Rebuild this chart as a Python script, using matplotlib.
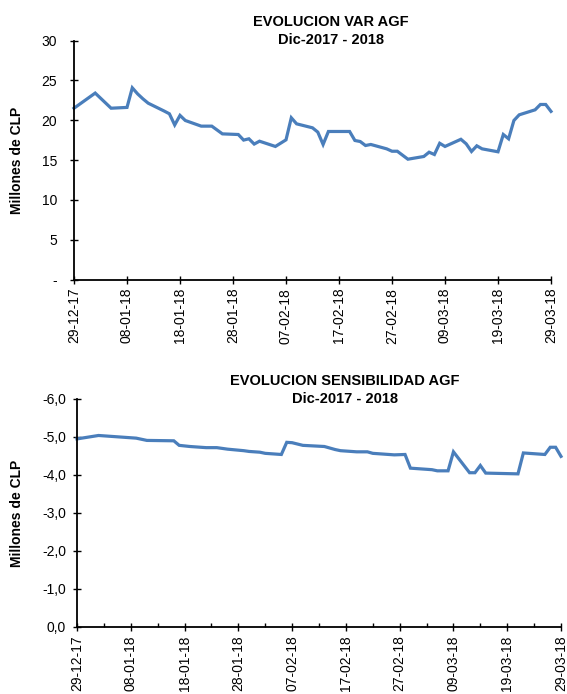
import matplotlib
matplotlib.use("Agg")
import matplotlib.pyplot as plt
import matplotlib.dates as mdates
from matplotlib.ticker import FixedLocator, FuncFormatter
import pandas as pd

plt.rcParams['font.family'] = ['Liberation Sans', 'DejaVu Sans']

# ---- data: VaR (top chart) ----
var_dates = ["2017-12-29", "2018-01-02", "2018-01-05", "2018-01-08", "2018-01-09", "2018-01-10",
             "2018-01-11", "2018-01-12", "2018-01-15", "2018-01-16", "2018-01-17", "2018-01-18",
             "2018-01-19", "2018-01-22", "2018-01-24", "2018-01-26", "2018-01-29", "2018-01-30",
             "2018-01-31", "2018-02-01", "2018-02-02", "2018-02-05", "2018-02-07", "2018-02-08",
             "2018-02-09", "2018-02-12", "2018-02-13", "2018-02-14", "2018-02-15", "2018-02-16",
             "2018-02-19", "2018-02-20", "2018-02-21", "2018-02-22", "2018-02-23", "2018-02-26",
             "2018-02-27", "2018-02-28", "2018-03-02", "2018-03-05", "2018-03-06", "2018-03-07",
             "2018-03-08", "2018-03-09", "2018-03-12", "2018-03-13", "2018-03-14", "2018-03-15",
             "2018-03-16", "2018-03-19", "2018-03-20", "2018-03-21", "2018-03-22", "2018-03-23",
             "2018-03-26", "2018-03-27", "2018-03-28", "2018-03-29"]
var_values = [21.5, 23.4, 21.5, 21.6, 24.06, 23.3,
              22.68, 22.13, 21.15, 20.8, 19.4, 20.6,
              19.96, 19.25, 19.25, 18.28, 18.2, 17.5,
              17.66, 17.0, 17.36, 16.7, 17.53, 20.3,
              19.54, 19.04, 18.5, 16.95, 18.58, 18.58,
              18.58, 17.45, 17.32, 16.82, 16.95, 16.4,
              16.1, 16.1, 15.1, 15.44, 15.98, 15.69,
              17.1, 16.7, 17.6, 17.03, 16.07, 16.78,
              16.4, 16.03, 18.2, 17.66, 19.96, 20.67,
              21.3, 21.97, 21.97, 21.1]

# ---- data: Sensibilidad (bottom chart) ----
sens_dates = ["2017-12-29", "2018-01-02", "2018-01-04", "2018-01-09", "2018-01-11", "2018-01-16",
              "2018-01-17", "2018-01-19", "2018-01-22", "2018-01-24", "2018-01-26", "2018-01-29",
              "2018-01-30", "2018-02-01", "2018-02-02", "2018-02-05", "2018-02-06", "2018-02-07",
              "2018-02-09", "2018-02-13", "2018-02-15", "2018-02-16", "2018-02-19", "2018-02-21",
              "2018-02-22", "2018-02-23", "2018-02-26", "2018-02-28", "2018-03-01", "2018-03-05",
              "2018-03-06", "2018-03-08", "2018-03-09", "2018-03-12", "2018-03-13", "2018-03-14",
              "2018-03-15", "2018-03-21", "2018-03-22", "2018-03-26", "2018-03-27", "2018-03-28",
              "2018-03-29"]
sens_values = [-4.95, -5.04, -5.02, -4.97, -4.91, -4.90,
               -4.78, -4.75, -4.72, -4.72, -4.68, -4.64,
               -4.62, -4.60, -4.57, -4.54, -4.86, -4.85,
               -4.78, -4.75, -4.67, -4.64, -4.61, -4.61,
               -4.57, -4.56, -4.53, -4.54, -4.18, -4.14,
               -4.11, -4.11, -4.61, -4.06, -4.06, -4.25,
               -4.05, -4.03, -4.58, -4.54, -4.73, -4.73,
               -4.49]

titles = ["EVOLUCION VAR AGF\nDic-2017 - 2018", "EVOLUCION SENSIBILIDAD AGF\nDic-2017 - 2018"]
ylabel = "Millones de CLP"
var_yticks = [0, 5, 10, 15, 20, 25, 30]
sens_yticks = [0, -1, -2, -3, -4, -5, -6]

start = pd.Timestamp("2017-12-29")
end = pd.Timestamp("2018-03-29")
major_ticks = pd.date_range(start, end, freq="10D")
minor_ticks = pd.date_range(start + pd.Timedelta(days=5), end, freq="10D")

W, H = 567, 694
fig = plt.figure(figsize=(W / 100, H / 100), dpi=100)

color = "#4A7EBB"
fs = 10

def frac_axes(l, t, r, b):
    return fig.add_axes([l / W, 1 - b / H, (r - l) / W, (b - t) / H])

ax1 = frac_axes(74, 40.5, 551, 279.5)
ax2 = frac_axes(77, 399, 561, 627)

for ax in (ax1, ax2):
    for s in ("top", "right"):
        ax.spines[s].set_visible(False)
    for s in ("left", "bottom"):
        ax.spines[s].set_linewidth(1.3)
        ax.spines[s].set_color("black")
    ax.set_xlim(mdates.date2num(start), mdates.date2num(end))
    ax.xaxis.set_major_locator(FixedLocator(mdates.date2num(major_ticks)))
    ax.xaxis.set_major_formatter(mdates.DateFormatter("%d-%m-%y"))
    ax.tick_params(axis="both", which="major", direction="inout", length=6, width=1,
                   labelsize=fs, colors="black")
    ax.tick_params(axis="x", which="major", pad=3)
    ax.set_facecolor("none")

ax1.plot(mdates.date2num(pd.to_datetime(var_dates)), var_values, color=color, lw=2.3,
         solid_joinstyle="miter", clip_on=False)
ax1.set_ylim(0, 30)
ax1.set_yticks(var_yticks)
ax1.yaxis.set_major_formatter(FuncFormatter(lambda v, p: "-" if v == 0 else f"{v:.0f}"))
ax1.tick_params(axis="y", pad=9)

ax2.plot(mdates.date2num(pd.to_datetime(sens_dates)), sens_values, color=color, lw=2.3,
         solid_joinstyle="miter", clip_on=False)
ax2.set_ylim(0, -6)
ax2.set_yticks(sens_yticks)
ax2.yaxis.set_major_formatter(FuncFormatter(lambda v, p: f"{v:.1f}".replace(".", ",").replace("-0,0", "0,0")))
ax2.xaxis.set_minor_locator(FixedLocator(mdates.date2num(minor_ticks)))
ax2.tick_params(axis="x", which="minor", direction="in", length=3, width=1)
ax2.tick_params(axis="y", pad=5)

for lab in ax1.get_xticklabels() + ax2.get_xticklabels():
    lab.set_rotation(90)

fig.text(331 / W, 1 - 31 / H, titles[0], ha="center", va="center", fontsize=10.5,
         fontweight="bold", linespacing=1.3)
fig.text(345 / W, 1 - 390 / H, titles[1], ha="center", va="center", fontsize=10.5,
         fontweight="bold", linespacing=1.3)
fig.text(17 / W, 1 - 160 / H, ylabel, rotation=90, ha="center", va="center",
         fontsize=10, fontweight="bold")
fig.text(17 / W, 1 - 513 / H, ylabel, rotation=90, ha="center", va="center",
         fontsize=10, fontweight="bold")

fig.savefig("out.png", dpi=100)
